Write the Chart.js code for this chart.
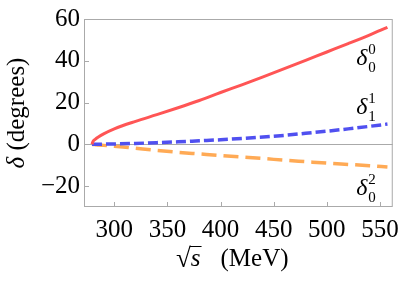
<!DOCTYPE html>
<html><head><meta charset="utf-8">
<script src="https://cdn.jsdelivr.net/npm/chart.js@4/dist/chart.umd.min.js"></script>
<style>html,body{margin:0;padding:0;background:#fff}#wrap{width:407px;height:283px}</style>
</head><body><div id="wrap"><canvas id="c" width="407" height="283"></canvas></div>
<script>
// energies sqrt(s) in MeV
const energies = [279, 280, 282, 285, 290, 300, 320, 340, 360, 380, 400, 420, 440, 460, 480, 500, 520, 540, 557];
// phase shifts in degrees
const delta00 = [0, 1.4, 2.4, 3.5, 5.0, 7.4, 11.0, 14.2, 17.5, 21.0, 24.8, 28.5, 32.3, 36.2, 40.2, 44.2, 48.2, 52.3, 56.0];
const delta11 = [0, 0.01, 0.03, 0.06, 0.1, 0.2, 0.45, 0.8, 1.2, 1.7, 2.2, 2.8, 3.5, 4.3, 5.3, 6.3, 7.4, 8.6, 9.7];
const delta02 = [0, -0.05, -0.15, -0.3, -0.5, -0.9, -1.9, -2.9, -3.8, -4.6, -5.4, -6.1, -6.8, -7.6, -8.3, -9.0, -9.6, -10.2, -10.8];
const xTicks = [300, 350, 400, 450, 500, 550];
const yTicks = [-20, 0, 20, 40, 60];
const yTickLabels = ['\u221220', '0', '20', '40', '60'];
const seriesNames = [['0','0'], ['1','1'], ['0','2']]; // [subscript, superscript]

const pts = arr => energies.map((e, i) => ({x: e, y: arr[i]}));
const FONT = '"Liberation Serif", "Times New Roman", serif';
const FRAME = '#aaaaaa';

const labelPos = [{x: 538, y: 41}, {x: 538, y: 17.5}, {x: 538, y: -21.5}];

const deco = {
  id: 'deco',
  afterDraw(chart) {
    const {ctx, chartArea: a, scales: {x, y}} = chart;
    ctx.save();
    ctx.strokeStyle = FRAME; ctx.lineWidth = 1;
    ctx.strokeRect(a.left + 0.5, a.top + 0.5, a.right - a.left - 1, a.bottom - a.top - 1);
    ctx.beginPath();
    xTicks.forEach(v => { const px = Math.round(x.getPixelForValue(v)) + 0.5; ctx.moveTo(px, a.bottom); ctx.lineTo(px, a.bottom - 5); });
    yTicks.forEach(v => { const py = Math.round(y.getPixelForValue(v)) + 0.5; ctx.moveTo(a.left, py); ctx.lineTo(a.left + 5, py); });
    ctx.stroke();
    ctx.fillStyle = '#000';
    seriesNames.forEach((n, i) => {
      const px = x.getPixelForValue(labelPos[i].x), py = y.getPixelForValue(labelPos[i].y);
      ctx.textBaseline = 'alphabetic'; ctx.textAlign = 'left';
      ctx.font = 'italic 24px ' + FONT;
      ctx.fillText('\u03b4', px - 11, py + 6);
      ctx.font = '15px ' + FONT;
      ctx.fillText(n[0], px + 1, py + 13);
      ctx.fillText(n[1], px + 1, py - 5);
    });
    const ty = 266;
    ctx.font = '27px ' + FONT;
    const rad = '\u221a';
    let sx = 176;
    ctx.fillText(rad, sx, ty + 1);
    const rw = ctx.measureText(rad).width;
    ctx.font = 'italic 25px ' + FONT;
    ctx.fillText('s', sx + rw, ty);
    const swd = ctx.measureText('s').width;
    ctx.strokeStyle = '#000'; ctx.lineWidth = 1;
    ctx.beginPath(); ctx.moveTo(sx + rw - 1, ty - 19.5); ctx.lineTo(sx + rw + swd + 1, ty - 19.5); ctx.stroke();
    ctx.font = '25px ' + FONT;
    ctx.fillText('(MeV)', sx + rw + swd + 20, ty);
    ctx.translate(17, (a.top + a.bottom) / 2);
    ctx.rotate(-Math.PI / 2);
    ctx.textAlign = 'left'; ctx.textBaseline = 'middle';
    ctx.font = 'italic 25px ' + FONT;
    const d = '\u03b4', dw = ctx.measureText(d).width;
    ctx.font = '25px ' + FONT;
    const rest = ' (degrees)', rwid = ctx.measureText(rest).width;
    const start = -(dw + rwid) / 2;
    ctx.font = 'italic 25px ' + FONT;
    ctx.fillText(d, start, 0);
    ctx.font = '25px ' + FONT;
    ctx.fillText(rest, start + dw, 0);
    ctx.restore();
  }
};

new Chart(document.getElementById('c'), {
  type: 'line',
  data: {
    datasets: [
      {data: pts(delta00), borderColor: '#ff5555', borderWidth: 3, pointRadius: 0, cubicInterpolationMode: 'monotone', fill: false},
      {data: pts(delta11), borderColor: '#5050f0', borderWidth: 3.5, borderDash: [10, 4], pointRadius: 0, cubicInterpolationMode: 'monotone', fill: false},
      {data: pts(delta02), borderColor: '#ffaa55', borderWidth: 3.5, borderDash: [15, 7], pointRadius: 0, cubicInterpolationMode: 'monotone', fill: false}
    ]
  },
  options: {
    responsive: false, animation: false, devicePixelRatio: 1,
    layout: {padding: {top: 13, right: 6, left: 0, bottom: 0}},
    plugins: {legend: {display: false}, tooltip: {enabled: false}},
    scales: {
      x: {
        type: 'linear', min: 271.5, max: 562,
        afterBuildTicks: s => { s.ticks = xTicks.map(v => ({value: v})); },
        afterFit: s => { s.height = 76; },
        grid: {display: false, drawTicks: false},
        border: {display: false},
        ticks: {color: '#000', font: {family: FONT, size: 25}, padding: 8, maxRotation: 0, callback: v => String(v)}
      },
      y: {
        type: 'linear', min: -30, max: 60,
        afterBuildTicks: s => { s.ticks = yTicks.map(v => ({value: v})); },
        afterFit: s => { s.width = 84; },
        grid: {drawTicks: false, color: c => c.tick && c.tick.value === 0 ? FRAME : 'rgba(0,0,0,0)', lineWidth: 1},
        border: {display: false},
        ticks: {color: '#000', font: {family: FONT, size: 25}, padding: 4, callback: v => yTickLabels[yTicks.indexOf(v)]}
      }
    }
  },
  plugins: [deco]
});
</script></body></html>
